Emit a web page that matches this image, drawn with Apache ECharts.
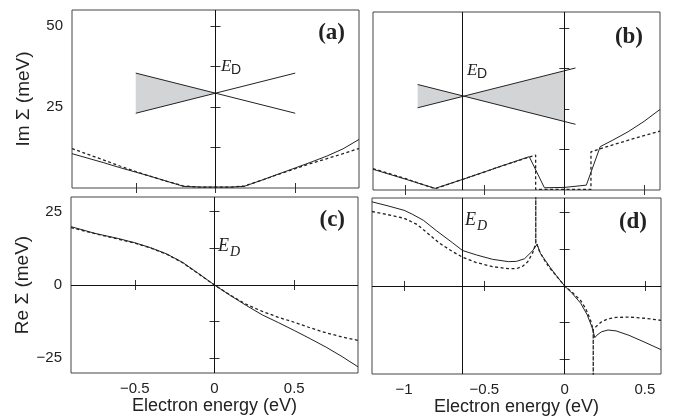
<!DOCTYPE html>
<html>
<head>
<meta charset="utf-8">
<script src="https://cdn.jsdelivr.net/npm/echarts@6/dist/echarts.min.js"></script>
<style>
html, body { margin: 0; padding: 0; background: #fff; }
#chart { width: 678px; height: 419px; }
</style>
</head>
<body>
<div id="chart"></div>
<script>
// self-energy, energies in eV, values in meV
// (a) Im Σ, left column
var imA_solid = [[-0.9,10.6],[-0.8,9.2],[-0.7,7.8],[-0.6,6.3],[-0.5,4.9],[-0.4,3.5],[-0.3,2.0],[-0.2,0.5],[-0.1,0.3],[0,0.3],[0.1,0.3],[0.18,0.5],[0.3,2.6],[0.4,4.4],[0.5,6.2],[0.6,8.0],[0.7,9.9],[0.8,12.1],[0.9,15.0]];
var imA_dash = [[-0.9,12.2],[-0.8,10.4],[-0.7,8.6],[-0.6,6.8],[-0.5,5.1],[-0.4,3.5],[-0.3,2.0],[-0.2,0.6],[-0.1,0.3],[0,0.3],[0.1,0.3],[0.18,0.6],[0.3,2.6],[0.4,4.3],[0.5,6.0],[0.6,7.6],[0.7,9.1],[0.8,10.6],[0.9,12.2]];
// (b) Im Σ, right column
var imB_solid = [[-1.2,6.4],[-1.0,3.4],[-0.81,0.5],[-0.63,3.4],[-0.4,7.3],[-0.22,10.3],[-0.125,0.7],[0,0.8],[0.138,1.5],[0.225,13.4],[0.3,15.3],[0.4,18.0],[0.5,21.2],[0.6,24.9]];
var imB_dash = [[-1.2,6.6],[-1.0,3.6],[-0.81,0.4],[-0.63,3.4],[-0.4,7.3],[-0.18,10.8],[-0.18,0.2],[0.167,0.2],[0.167,11.8],[0.3,13.9],[0.45,16.1],[0.6,18.2]];
// (c) Re Σ, left column
var reC_solid = [[-0.9,19.9],[-0.75,17.6],[-0.6,15.8],[-0.5,14.4],[-0.4,12.7],[-0.3,10.6],[-0.2,7.7],[-0.1,3.9],[0,0],[0.1,-3.6],[0.2,-7.0],[0.3,-10.2],[0.4,-12.8],[0.5,-15.5],[0.6,-18.3],[0.7,-21.2],[0.8,-24.4],[0.9,-27.9]];
var reC_dash = [[-0.9,19.6],[-0.75,17.5],[-0.6,15.6],[-0.5,14.3],[-0.4,12.6],[-0.3,10.5],[-0.2,7.6],[-0.1,3.8],[0,0],[0.1,-3.5],[0.2,-6.6],[0.3,-9.0],[0.4,-11.0],[0.5,-12.7],[0.6,-14.6],[0.7,-16.3],[0.8,-17.7],[0.9,-18.9]];
// (d) Re Σ, right column (dashed has log spikes)
var reD_solid = [[-1.2,28.7],[-1.1,27.3],[-1.0,25.8],[-0.95,24.5],[-0.88,22.4],[-0.8,18.9],[-0.7,14.8],[-0.636,12.1],[-0.55,10.6],[-0.45,9.1],[-0.35,8.3],[-0.3,8.4],[-0.25,9.3],[-0.2,12.0],[-0.172,14.2],[-0.15,11.0],[-0.12,8.7],[-0.09,6.3],[-0.05,3.4],[0,0],[0.05,-2.7],[0.1,-5.9],[0.14,-9.8],[0.17,-14.0],[0.188,-17.6],[0.2,-16.8],[0.23,-15.6],[0.27,-15.0],[0.32,-15.3],[0.4,-16.8],[0.5,-19.2],[0.6,-21.7]];
var reD_dash = [[-1.2,25.4],[-1.1,24.3],[-1.0,23.1],[-0.92,21.0],[-0.86,18.3],[-0.78,14.6],[-0.7,11.8],[-0.636,9.8],[-0.55,8.0],[-0.45,6.6],[-0.35,5.9],[-0.3,5.9],[-0.26,6.8],[-0.23,8.3],[-0.2,11.2],[-0.18,14.5],[-0.18,80],[-0.18,15.5],[-0.16,12.2],[-0.13,9.2],[-0.1,6.6],[-0.05,3.3],[0,0],[0.05,-2.3],[0.1,-5.0],[0.13,-7.6],[0.16,-11.5],[0.178,-15.0],[0.178,-80],[0.178,-14.8],[0.2,-13.6],[0.23,-12.2],[0.27,-11.2],[0.32,-10.7],[0.4,-10.6],[0.5,-11.0],[0.6,-11.7]];

// Dirac cone sketches
var coneA_1 = [[-0.5,35.5],[0.5,23.1]];
var coneA_2 = [[-0.5,23.1],[0.5,35.5]];
var coneA_fill = [[-0.5,35.5],[0,29.3],[-0.5,23.1]];
var coneB_1 = [[-0.92,32.6],[0.07,20.3]];
var coneB_2 = [[-0.92,25.4],[0.07,37.7]];
var coneB_fill = [[-0.92,32.6],[-0.63,29],[0,36.8],[0,21.2],[-0.63,29],[-0.92,25.4]];

// reference lines (E = 0, E_D) and tick values
var vLinesLeft = [0];
var vLinesRight = [-0.636, 0];
var hLinesRe = [0];
var xTicksLeft = [-0.5, 0, 0.5];
var xTicksRight = [-1, -0.5, 0, 0.5];
var yTicksIm = [12.5, 25, 37.5, 50];
var yLabelsIm = [25, 50];
var yTicksRe = [-25, -12.5, 0, 12.5, 25];
var yLabelsRe = [-25, 0, 25];

var ink = '#222';
var sans = 'Liberation Sans, Arial, sans-serif';
var serif = 'Liberation Serif, Times New Roman, serif';

function fmt(v) { return String(v).replace('-', '\u2212'); }

function xAx(grid, min, max, ticks, labels, pos, name) {
    return {
        type: 'value', gridIndex: grid, min: min, max: max, position: pos,
        axisLine: { show: false }, splitLine: { show: false },
        axisTick: { inside: true, length: 5, customValues: ticks, lineStyle: { color: '#333' } },
        axisLabel: labels ? { customValues: labels, formatter: fmt, color: ink, fontSize: 15, fontFamily: sans, margin: 8 } : { show: false },
        name: name || '', nameLocation: 'middle', nameGap: 24,
        nameTextStyle: { color: ink, fontSize: 18, fontFamily: sans }
    };
}
function yAx(grid, min, max, ticks, labels, pos, name) {
    return {
        type: 'value', gridIndex: grid, min: min, max: max, position: pos,
        axisLine: { show: false }, splitLine: { show: false },
        axisTick: { inside: true, length: 5, customValues: ticks, lineStyle: { color: '#333' } },
        axisLabel: labels ? { customValues: labels, formatter: fmt, color: ink, fontSize: 15, fontFamily: sans, margin: 9 } : { show: false },
        name: name || '', nameLocation: 'middle', nameGap: 39,
        nameTextStyle: { color: ink, fontSize: 19, fontFamily: sans }
    };
}

function curve(idx, data, dashed, marks) {
    var s = {
        type: 'line', xAxisIndex: idx, yAxisIndex: idx, data: data,
        symbol: 'none', silent: true, clip: true, z: 3,
        lineStyle: dashed ? { color: ink, width: 1.3, type: [3, 2.5] } : { color: ink, width: 1 }
    };
    if (marks) {
        s.markLine = {
            silent: true, symbol: 'none', animation: false,
            label: { show: false },
            lineStyle: { color: '#111', width: 1, type: 'solid' },
            data: marks
        };
    }
    return s;
}
function segment(idx, data) {
    return { type: 'line', xAxisIndex: idx, yAxisIndex: idx, data: data, symbol: 'none', silent: true, z: 4,
        lineStyle: { color: ink, width: 1 } };
}
function fill(idx, pts) {
    return {
        type: 'custom', xAxisIndex: idx, yAxisIndex: idx, data: [[0, 0]], silent: true, z: 2,
        renderItem: function (params, api) {
            return { type: 'polygon', shape: { points: pts.map(function (p) { return api.coord(p); }) },
                style: { fill: '#d3d4d6' } };
        }
    };
}
function vMarks(list) { return list.map(function (v) { return { xAxis: v }; }); }
function hMarks(list) { return list.map(function (v) { return { yAxis: v }; }); }

var grids = [
    { left: 72, top: 10, width: 287, height: 178 },
    { left: 373, top: 12, width: 287, height: 178 },
    { left: 71, top: 197, width: 287, height: 176 },
    { left: 372, top: 198, width: 289, height: 176 }
];
grids.forEach(function (g) { g.show = true; g.borderColor = '#444'; g.borderWidth = 1; g.backgroundColor = 'transparent'; });

var xAxes = [
    xAx(0, -0.9, 0.9, xTicksLeft, null, 'bottom'),
    xAx(1, -1.2, 0.6, xTicksRight, null, 'bottom'),
    xAx(2, -0.9, 0.9, xTicksLeft, xTicksLeft, 'bottom', 'Electron energy (eV)'),
    xAx(3, -1.2, 0.6, xTicksRight, xTicksRight, 'bottom', 'Electron energy (eV)'),
    xAx(0, -0.9, 0.9, xTicksLeft, null, 'top'),
    xAx(1, -1.2, 0.6, xTicksRight, null, 'top'),
    xAx(2, -0.9, 0.9, xTicksLeft, null, 'top'),
    xAx(3, -1.2, 0.6, xTicksRight, null, 'top')
];
var yAxes = [
    yAx(0, 0, 55, yTicksIm, yLabelsIm, 'left', 'Im \u03a3 (meV)'),
    yAx(1, 0, 55, yTicksIm, null, 'left'),
    yAx(2, -30, 30, yTicksRe, yLabelsRe, 'left', 'Re \u03a3 (meV)'),
    yAx(3, -30, 30, yTicksRe, null, 'left'),
    yAx(0, 0, 55, yTicksIm, null, 'right'),
    yAx(1, 0, 55, yTicksIm, null, 'right'),
    yAx(2, -30, 30, yTicksRe, null, 'right'),
    yAx(3, -30, 30, yTicksRe, null, 'right')
];

function txt(x, y, s, font, size, style, weight, align) {
    return { type: 'text', x: x, y: y, silent: true, z: 10,
        style: { text: s, fontFamily: font, fontSize: size, fontStyle: style || 'normal', fontWeight: weight || 'normal',
            fill: ink, align: align || 'left', verticalAlign: 'middle' } };
}

var option = {
    animation: false,
    backgroundColor: '#fff',
    grid: grids,
    xAxis: xAxes,
    yAxis: yAxes,
    series: [
        fill(0, coneA_fill), segment(0, coneA_1), segment(0, coneA_2),
        curve(0, imA_solid, false, vMarks(vLinesLeft)), curve(0, imA_dash, true),
        fill(1, coneB_fill), segment(1, coneB_1), segment(1, coneB_2),
        curve(1, imB_solid, false, vMarks(vLinesRight)), curve(1, imB_dash, true),
        curve(2, reC_solid, false, vMarks(vLinesLeft).concat(hMarks(hLinesRe))), curve(2, reC_dash, true),
        curve(3, reD_solid, false, vMarks(vLinesRight).concat(hMarks(hLinesRe))), curve(3, reD_dash, true)
    ],
    graphic: [
        txt(345, 33, '(a)', serif, 23, 'normal', 'bold', 'right'),
        txt(643, 37, '(b)', serif, 23, 'normal', 'bold', 'right'),
        txt(345, 220, '(c)', serif, 23, 'normal', 'bold', 'right'),
        txt(647, 222, '(d)', serif, 23, 'normal', 'bold', 'right'),
        txt(221, 67, 'E', serif, 17, 'italic'), txt(231, 70, 'D', sans, 14),
        txt(467, 71, 'E', serif, 17, 'italic'), txt(477, 74, 'D', sans, 14),
        txt(218, 246, 'E', serif, 18, 'italic'), txt(230, 252, 'D', serif, 14, 'italic'),
        txt(465, 220, 'E', serif, 18, 'italic'), txt(477, 226, 'D', serif, 14, 'italic')
    ]
};

var myChart = echarts.init(document.getElementById('chart'));
myChart.setOption(option);
</script>
</body>
</html>
